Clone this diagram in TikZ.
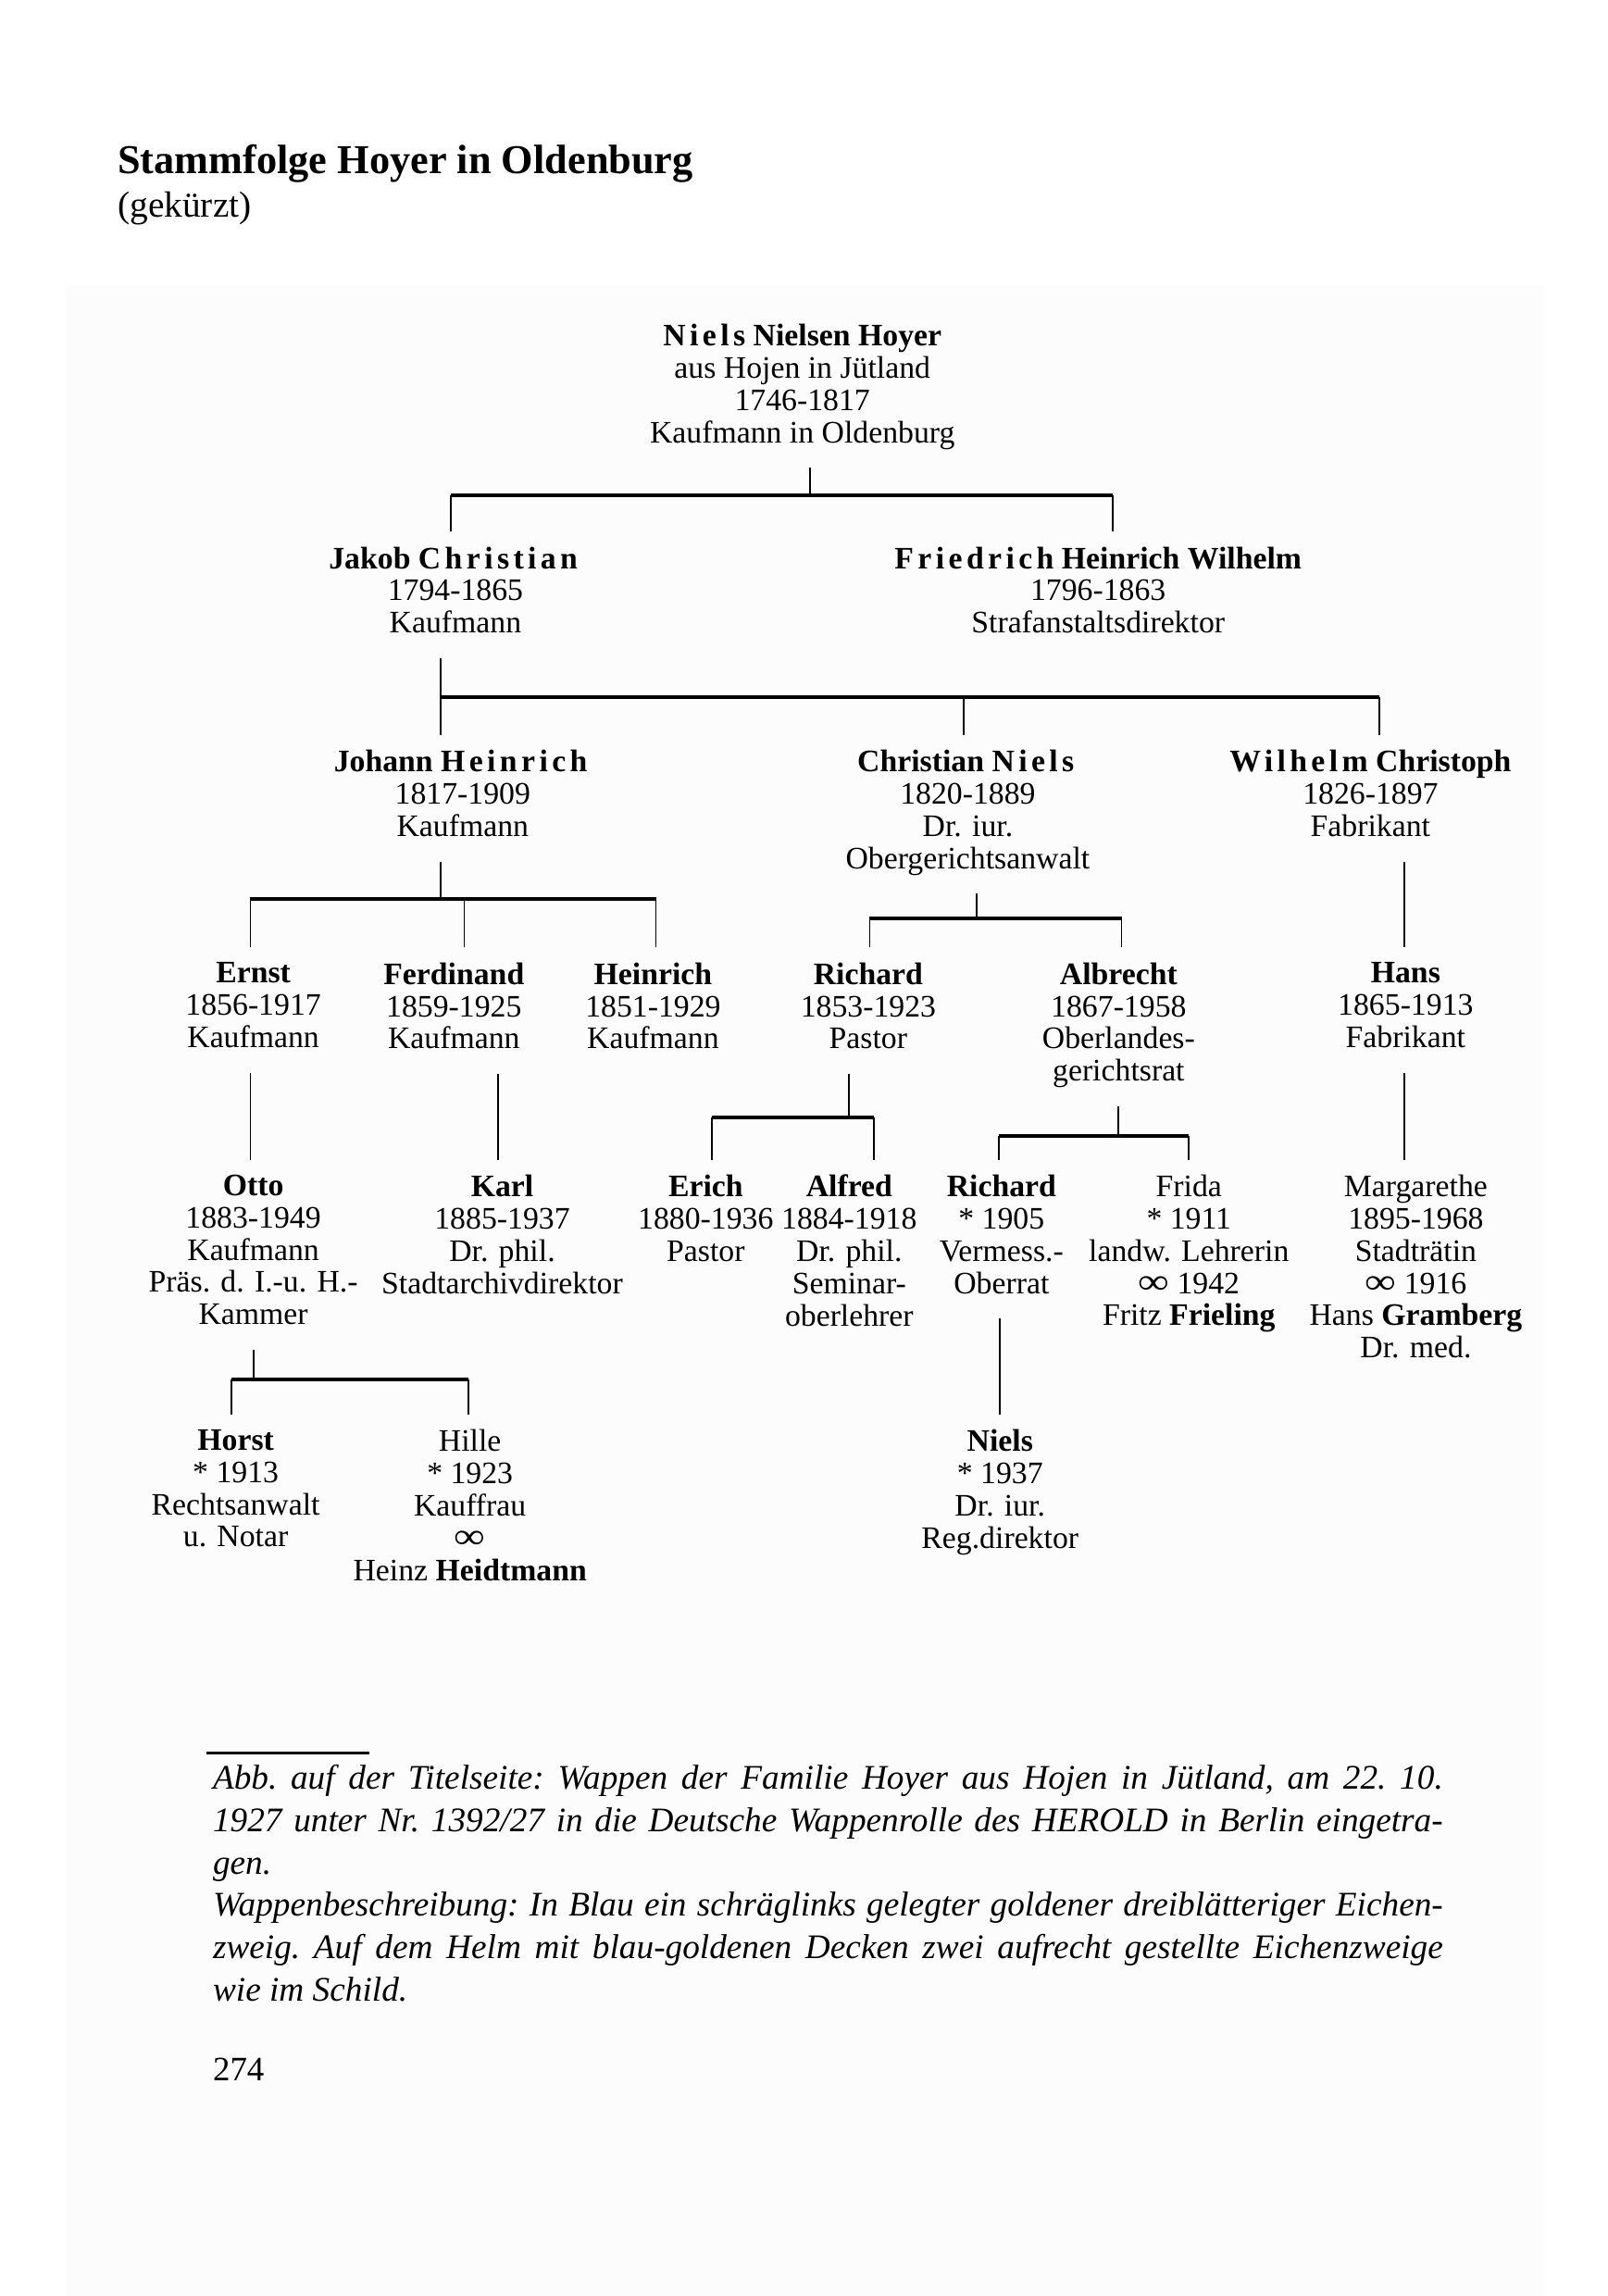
\documentclass[tikz,border=0pt]{standalone}
\usepackage{fontspec}
\setmainfont{Liberation Serif}
\usepackage{tikz}
% letter-spaced (gesperrt) names
\newcommand{\gesp}[1]{{\addfontfeatures{LetterSpace=13}#1}}
% marriage sign
\newcommand{\verh}{\scalebox{1.4}[1.15]{∞}}

\begin{document}
\begin{tikzpicture}[x=0.01581cm,y=-0.01581cm,
  person/.style={anchor=north,align=center,inner xsep=2pt,inner ysep=4.5pt,
    font=\fontsize{9.6}{9.9}\selectfont,
    execute at begin node=\strut,execute at end node=\strut},
  stem/.style={line width=0.5pt},
  sibbar/.style={line width=1.1pt}]
  % Stammfolge Hoyer -- page 274, coordinates in page pixels
  \useasboundingbox (0,0) rectangle (1098,1568);
  \fill[black!1] (45,195) rectangle (1055,1568);
  % --- Heading ---
  \node[anchor=west,inner sep=0,font=\fontsize{12.6}{14}\selectfont\bfseries]
    (title) at (80,112) {Stammfolge Hoyer in Oldenburg};
  \node[anchor=west,inner sep=0,font=\fontsize{11.2}{13}\selectfont]
    (subtitle) at (80,142) {(gekürzt)};
  % --- Generation 0 and 1 ---
  \node[person] (niels) at (548,211)
    {\textbf{\gesp{Niels} Nielsen Hoyer}\\aus Hojen in Jütland\\1746-1817\\Kaufmann in Oldenburg};
  \node[person] (jakob) at (311,363)
    {\textbf{Jakob \gesp{Christian}}\\1794-1865\\Kaufmann};
  \node[person] (friedrich) at (750,363)
    {\textbf{\gesp{Friedrich} Heinrich Wilhelm}\\1796-1863\\Strafanstaltsdirektor};
  % --- Generation 2 ---
  \node[person] (johann) at (316,502)
    {\textbf{Johann \gesp{Heinrich}}\\1817-1909\\Kaufmann};
  \node[person] (christian) at (661,502)
    {\textbf{Christian \gesp{Niels}}\\1820-1889\\Dr. iur.\\Obergerichtsanwalt};
  \node[person] (wilhelm) at (936,502)
    {\textbf{\gesp{Wilhelm} Christoph}\\1826-1897\\Fabrikant};
  % --- Generation 3 ---
  \node[person] (ernst) at (173,647) {\textbf{Ernst}\\1856-1917\\Kaufmann};
  \node[person] (ferdinand) at (310,647) {\textbf{Ferdinand}\\1859-1925\\Kaufmann};
  \node[person] (heinrich) at (446,647) {\textbf{Heinrich}\\1851-1929\\Kaufmann};
  \node[person] (richard) at (593,647) {\textbf{Richard}\\1853-1923\\Pastor};
  \node[person] (albrecht) at (764,647)
    {\textbf{Albrecht}\\1867-1958\\Oberlandes-\\gerichtsrat};
  \node[person] (hans) at (960,647) {\textbf{Hans}\\1865-1913\\Fabrikant};
  % --- Generation 4 ---
  \node[person] (otto) at (173,792)
    {\textbf{Otto}\\1883-1949\\Kaufmann\\Präs. d. I.-u. H.-\\Kammer};
  \node[person] (karl) at (343,792)
    {\textbf{Karl}\\1885-1937\\Dr. phil.\\Stadtarchivdirektor};
  \node[person] (erich) at (482,792) {\textbf{Erich}\\1880-1936\\Pastor};
  \node[person] (alfred) at (580,792)
    {\textbf{Alfred}\\1884-1918\\Dr. phil.\\Seminar-\\oberlehrer};
  \node[person] (richardzwei) at (684,792)
    {\textbf{Richard}\\* 1905\\Vermess.-\\Oberrat};
  \node[person] (frida) at (812,792)
    {Frida\\* 1911\\landw. Lehrerin\\\verh{} 1942\\Fritz \textbf{Frieling}};
  \node[person] (margarethe) at (967,792)
    {Margarethe\\1895-1968\\Stadträtin\\\verh{} 1916\\Hans \textbf{Gramberg}\\Dr. med.};
  % --- Generation 5 ---
  \node[person] (horst) at (161,966)
    {\textbf{Horst}\\* 1913\\Rechtsanwalt\\u. Notar};
  \node[person] (hille) at (321,966)
    {Hille\\* 1923\\Kauffrau\\\verh\\Heinz \textbf{Heidtmann}};
  \node[person] (nielszwei) at (683,966)
    {\textbf{Niels}\\* 1937\\Dr. iur.\\Reg.direktor};
  % --- Lines of descent ---
  % Niels Nielsen -> Jakob, Friedrich
  \coordinate (j0) at (553,338);
  \coordinate (l0) at (308,338);
  \coordinate (r0) at (760,338);
  \draw[stem] (j0 |- niels.south) -- (j0);
  \draw[sibbar] (l0) -- (r0);
  \draw[stem] (l0) -- (l0 |- jakob.north);
  \draw[stem] (r0) -- (r0 |- friedrich.north);
  % Jakob -> Johann, Christian, Wilhelm
  \coordinate (l1) at (301,476);
  \coordinate (m1) at (658,476);
  \coordinate (r1) at (942,476);
  \draw[stem] (l1 |- jakob.south) -- (l1);
  \draw[sibbar] (l1) -- (r1);
  \draw[stem] (l1) -- (l1 |- johann.north);
  \draw[stem] (m1) -- (m1 |- christian.north);
  \draw[stem] (r1) -- (r1 |- wilhelm.north);
  % Johann Heinrich -> Ernst, Ferdinand, Heinrich
  \coordinate (j2) at (301,614);
  \coordinate (l2) at (171,614);
  \coordinate (m2) at (317,614);
  \coordinate (r2) at (448,614);
  \draw[stem] (j2 |- johann.south) -- (j2);
  \draw[sibbar] (l2) -- (r2);
  \draw[stem] (l2) -- (l2 |- ernst.north);
  \draw[stem] (m2) -- (m2 |- ferdinand.north);
  \draw[stem] (r2) -- (r2 |- heinrich.north);
  % Christian Niels -> Richard, Albrecht
  \coordinate (j3) at (667,627);
  \coordinate (l3) at (594,627);
  \coordinate (r3) at (766,627);
  \draw[stem] (j3 |- christian.south) -- (j3);
  \draw[sibbar] (l3) -- (r3);
  \draw[stem] (l3) -- (l3 |- richard.north);
  \draw[stem] (r3) -- (r3 |- albrecht.north);
  % single lines
  \coordinate (w4) at (959,0);
  \coordinate (e5) at (171,0);
  \coordinate (f6) at (340,0);
  \coordinate (n11) at (683,0);
  \draw[stem] (w4 |- wilhelm.south) -- (w4 |- hans.north);
  \draw[stem] (e5 |- ernst.south) -- (e5 |- otto.north);
  \draw[stem] (f6 |- ferdinand.south) -- (f6 |- karl.north);
  \draw[stem] (w4 |- hans.south) -- (w4 |- margarethe.north);
  \draw[stem] (n11 |- richardzwei.south) -- (n11 |- nielszwei.north);
  % Richard -> Erich, Alfred
  \coordinate (j7) at (580,763);
  \coordinate (l7) at (486,763);
  \coordinate (r7) at (597,763);
  \draw[stem] (j7 |- richard.south) -- (j7);
  \draw[sibbar] (l7) -- (r7);
  \draw[stem] (l7) -- (l7 |- erich.north);
  \draw[stem] (r7) -- (r7 |- alfred.north);
  % Albrecht -> Richard, Frida
  \coordinate (j8) at (764,776);
  \coordinate (l8) at (682,776);
  \coordinate (r8) at (812,776);
  \draw[stem] (j8 |- albrecht.south) -- (j8);
  \draw[sibbar] (l8) -- (r8);
  \draw[stem] (l8) -- (l8 |- richardzwei.north);
  \draw[stem] (r8) -- (r8 |- frida.north);
  % Otto -> Horst, Hille
  \coordinate (j10) at (173,942);
  \coordinate (l10) at (158,942);
  \coordinate (r10) at (320,942);
  \draw[stem] (j10 |- otto.south) -- (j10);
  \draw[sibbar] (l10) -- (r10);
  \draw[stem] (l10) -- (l10 |- horst.north);
  \draw[stem] (r10) -- (r10 |- hille.north);
  % --- Footnote ---
  \draw[line width=0.8pt] (141,1197) -- (252,1197);
  \node[anchor=north west,inner sep=0,text width=13.28cm,align=justify,
    font=\fontsize{10.6}{13}\selectfont\itshape\frenchspacing] (caption) at (145,1205)
    {Abb. auf der Titelseite: Wappen der Familie Hoyer aus Hojen in Jütland, am 22.~10.\linebreak
     1927 unter Nr. 1392/27 in die Deutsche Wappenrolle des HEROLD in Berlin eingetra-\linebreak
     gen.\\
     Wappenbeschreibung: In Blau ein schräglinks gelegter goldener dreiblätteriger Eichen-\linebreak
     zweig. Auf dem Helm mit blau-goldenen Decken zwei aufrecht gestellte Eichenzweige\linebreak
     wie im Schild.};
  \node[anchor=west,inner sep=0,font=\fontsize{10.5}{12}\selectfont]
    (pagenum) at (145,1413) {274};
\end{tikzpicture}
\end{document}
